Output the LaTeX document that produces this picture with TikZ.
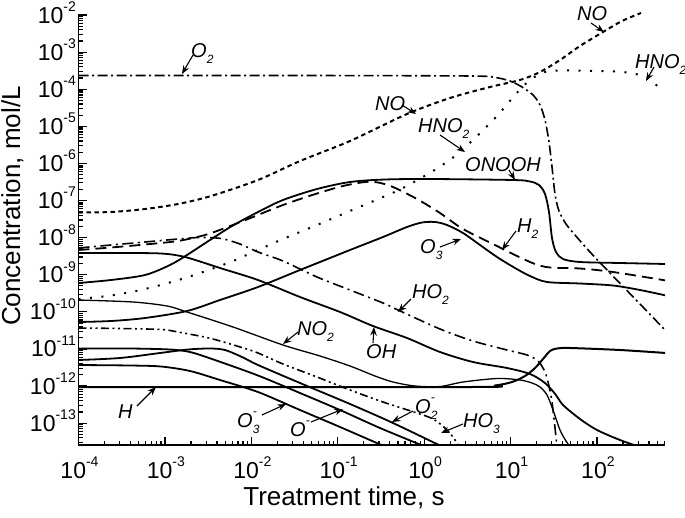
\documentclass[tikz,border=0pt]{standalone}
\usepackage{fontspec}
\setmainfont{Liberation Sans}
\usetikzlibrary{arrows.meta}
\newcommand{\sbs}[1]{\raisebox{-0.3em}{\fontsize{12}{12}\selectfont #1}}
\newcommand{\sps}[1]{\raisebox{0.6em}{\fontsize{12}{12}\selectfont #1}}
\newcommand{\sbsp}[2]{\rlap{\sps{#2}}\sbs{#1}}
\newcommand{\tkl}[1]{10\raisebox{0.5em}{\fontsize{14}{14}\selectfont #1}}
\begin{document}
\begin{tikzpicture}[x=1pt,y=-1pt,
  axisl/.style={line width=1.8pt},
  tickl/.style={line width=1.2pt},
  ytl/.style={font=\fontsize{23}{25}\selectfont, anchor=east, inner sep=0pt},
  xtl/.style={font=\fontsize{23}{25}\selectfont, anchor=north, inner sep=0pt},
  ttl/.style={font=\fontsize{26}{28}\selectfont, inner sep=0pt, anchor=base},
  spc/.style={font=\fontsize{20}{22}\selectfont\itshape, inner sep=0pt, anchor=base west},
  ptr/.style={line width=1.1pt, -{Stealth[length=8.5pt,width=6.5pt]}},
  crv/.style={line width=1.8pt, line join=round},
  thincrv/.style={crv, line width=1.3pt},
  o2style/.style={crv, line width=1.6pt, dash pattern=on 10pt off 3.5pt on 2pt off 3.5pt},
  nostyle/.style={crv, line width=2pt, dash pattern=on 4.5pt off 3.5pt},
  hno2style/.style={crv, line width=2pt, dash pattern=on 2pt off 9.5pt},
  h2style/.style={crv, dash pattern=on 11pt off 6pt},
  ho2style/.style={crv, line width=1.6pt, dash pattern=on 11pt off 4.5pt on 2pt off 4.5pt},
  ho3style/.style={crv, line width=1.6pt, dash pattern=on 8pt off 3.5pt on 2pt off 3.5pt on 2pt off 3.5pt},
]
\useasboundingbox (0,0) rectangle (685,517);

% ---------- curves ----------
\begin{scope}
\clip (78.5,10) rectangle (665,445);
% O2
\draw[o2style] plot[smooth, tension=0.5] coordinates {(78.5,75.5) (300,75.5) (470,76) (495,77.5) (510,81) (522,87) (533,95) (540,105) (545,120) (549,142) (552,167) (555,194) (559,211) (566,224) (575,235) (590,252) (610,273) (640,304) (666,331)};
% NO
\draw[nostyle] plot[smooth, tension=0.5] coordinates {(78.5,212.5) (111,212) (145,209) (178,204) (211,196) (258,180) (300,161) (350,141) (407,114) (450,98) (490,87) (520,80) (540,72) (560,60) (580,46) (603,32) (622,21) (641,13)};
% HNO2
\draw[hno2style] plot[smooth, tension=0.5] coordinates {(78.5,299) (111,295.5) (145,289) (185,278) (228,263) (251,253) (283,239) (317,225) (350,211) (383,197) (403,188) (433,171) (455,156) (475,138) (497,116) (515,95) (530,80) (545,72) (560,70.5) (600,71) (623,72) (640,75) (650,79) (660,89)};
% H2
\draw[h2style] plot[smooth, tension=0.5] coordinates {(78.5,250) (111,247.5) (145,244.5) (178,241) (205,235) (225,228) (248,219) (283,205) (317,193.5) (343,186) (365,182) (378,182.5) (393,187) (417,199) (440,213) (463,229) (497,246) (517,256) (535,264) (550,267.5) (580,268.5) (613,272) (666,280.5)};
% ONOOH
\draw[crv] plot[smooth, tension=0.5] coordinates {(78.5,283) (111,280) (145,275) (170,265) (187,255) (210,240) (232,226) (258,212) (283,200) (317,189) (350,182) (385,179.5) (430,179) (513,180) (530,181.5) (539,185) (545,194) (549,212) (552,238) (556,252) (563,259) (580,262) (620,263) (666,264)};
% O3
\draw[crv] plot[smooth, tension=0.5] coordinates {(78.5,322) (111,321) (145,318) (187,311) (220,300) (258,287) (300,270) (350,250) (383,237) (407,227) (422,222.5) (435,222) (447,225) (463,233) (480,245) (497,257) (515,268) (530,276) (547,282) (580,283.5) (613,285.5) (640,290) (666,295.5)};
% OH
\draw[crv] plot[smooth, tension=0.5] coordinates {(78.5,253) (120,253) (161,253.5) (185,257) (220,268) (258,280) (300,297) (340,312) (373,326) (407,338) (440,352) (473,362) (507,368) (530,374) (545,383) (556,395) (563,405) (580,419) (597,430) (620,440) (640,447)};
% HO2
\draw[ho2style] plot[smooth, tension=0.5] coordinates {(78.5,248) (111,245) (145,242) (178,239) (200,237.5) (221,238.5) (240,244) (258,252) (283,261) (317,277) (350,290) (383,303) (398,310) (440,329) (473,341) (507,350) (527,355) (538,361) (545,372) (549,386) (552,402) (555,428) (557,447)};
% NO2
\draw[thincrv] plot[smooth, tension=0.5] coordinates {(78.5,300) (133,302) (167,306) (187,312) (233,327) (283,345) (320,356) (350,366) (375,376) (393,382) (415,386) (440,386.5) (463,382) (497,378.5) (520,380) (532,383) (540,387) (547,395) (553,410) (560,430) (566,441) (571,448)};
% HO3
\draw[ho3style] plot[smooth, tension=0.5] coordinates {(78.5,328) (120,328.5) (161,329.5) (178,332) (211,338.5) (245,348.5) (258,353) (283,364) (317,377) (350,390) (383,402) (417,413) (433,419) (445,428) (453,437) (460,448)};
% H
\draw[crv, line width=2pt] plot[smooth, tension=0.5] coordinates {(78.5,387) (470,387) (495,385.5) (512,382) (525,376) (535,368) (543,359) (550,351) (557,348.5) (570,348) (620,350) (666,353)};
% O-
\draw[crv] plot[smooth, tension=0.5] coordinates {(78.5,348.5) (130,348.5) (170,349.5) (190,352) (212,359) (258,375.5) (300,393) (340,410) (380,428) (426,447)};
% O2-
\draw[crv] plot[smooth, tension=0.5] coordinates {(78.5,360) (120,358) (160,353) (188,349.5) (210,348.5) (225,350) (242,357) (258,365) (300,383) (350,404) (393,423) (443,447)};
% O3-
\draw[crv] plot[smooth, tension=0.5] coordinates {(78.5,365) (130,365.5) (161,366.5) (190,371) (220,380) (258,392) (300,410) (340,427) (386,447)};
\end{scope}

% ---------- axes ----------
\draw[axisl] (78.5,14) -- (78.5,445) -- (664.5,445);
\foreach \e in {2,...,13} {
  \pgfmathsetmacro\yy{15+37.1*(\e-2)}
  \draw[tickl] (78.5,\yy) -- ++(8.5,0);
  \node[ytl] (yl\e) at (76,\yy-2.5) {\tkl{-\e}};
}
\foreach \e in {3,...,14} {
  \foreach \m in {2,...,9} {
    \pgfmathsetmacro\ym{15+37.1*(\e-2-ln(\m)/ln(10))}
    \ifdim\ym pt<445.5pt \draw[tickl] (78.5,\ym) -- ++(4.5,0); \fi
  }
}
\foreach \d [count=\i] in {-4,...,2} {
  \pgfmathsetmacro\xx{78.5+86.4*(\d+4)}
  \draw[tickl] (\xx,445) -- ++(0,-8);
  \node[xtl] (xl\i) at (\xx+1,457) {\tkl{\d}};
  \foreach \m in {2,...,9} {
    \pgfmathsetmacro\xm{78.5+86.4*(\d+4+ln(\m)/ln(10))}
    \ifdim\xm pt<665pt \draw[tickl] (\xm,445) -- ++(0,-4.5); \fi
  }
}
\node[ttl] (xtitle) at (344,505) {Treatment time, s};
\node[ttl, rotate=90] (ytitle) at (20,206) {Concentration, mol/L};

% ---------- species labels ----------
\node[spc] (lo2) at (191,57) {O\sbs{2}};
\node[spc] (lnotop) at (577,20) {NO};
\node[spc] (lhno2top) at (635,68) {HNO\sbs{2}};
\node[spc] (lno) at (375,110) {NO};
\node[spc] (lhno2) at (418,132) {HNO\sbs{2}};
\node[spc] (lonooh) at (465,171) {ONOOH};
\node[spc] (lh2) at (517,232) {H\sbs{2}};
\node[spc] (lo3) at (420,253) {O\sbs{3}};
\node[spc] (lho2) at (412,298) {HO\sbs{2}};
\node[spc] (loh) at (366,358) {OH};
\node[spc] (lno2) at (297,335) {NO\sbs{2}};
\node[spc] (lh) at (118,418) {H};
\node[spc] (lo3m) at (237,427) {O\sbsp{3}{-}};
\node[spc] (lom) at (290,436) {O\sps{-}};
\node[spc] (lo2m) at (415,413) {O\sbsp{2}{-}};
\node[spc] (lho3) at (463,427) {HO\sbs{3}};

% ---------- pointers ----------
\coordinate (a1) at (193,55);  \coordinate (b1) at (182,74);
\coordinate (a2) at (591,23);  \coordinate (b2) at (604,32);
\coordinate (a3) at (654,67);  \coordinate (b3) at (646,81);
\coordinate (a4) at (402,105); \coordinate (b4) at (416,114);
\coordinate (a5) at (440,135); \coordinate (b5) at (465,152);
\coordinate (a6) at (509,170); \coordinate (b6) at (515,180);
\coordinate (a7) at (516,231); \coordinate (b7) at (502,250);
\coordinate (a8) at (440,247); \coordinate (b8) at (461,239);
\coordinate (a9) at (411,299); \coordinate (b9) at (398,312);
\coordinate (a10) at (373,343); \coordinate (b10) at (374,327);
\coordinate (a11) at (298,332); \coordinate (b11) at (283,344);
\coordinate (a12) at (137,406); \coordinate (b12) at (156,387);
\coordinate (a13) at (262,415); \coordinate (b13) at (286,404);
\coordinate (a14) at (311,422); \coordinate (b14) at (343,409);
\coordinate (a15) at (413,411); \coordinate (b15) at (392,422);
\coordinate (a16) at (463,424); \coordinate (b16) at (441,433);
\foreach \k in {1,...,16} { \draw[ptr] (a\k) -- (b\k); }
\end{tikzpicture}
\end{document}
